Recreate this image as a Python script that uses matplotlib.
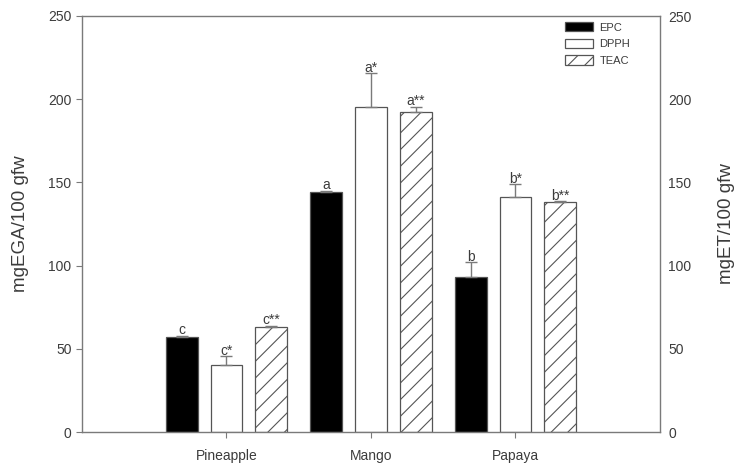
import numpy as np
import matplotlib.pyplot as plt
from matplotlib.patches import Patch

plt.rcParams['font.family'] = ['Liberation Sans', 'DejaVu Sans']
plt.rcParams['hatch.linewidth'] = 0.8

# Data
fruits = ['Pineapple', 'Mango', 'Papaya']
series = ['EPC', 'DPPH', 'TEAC']
epc = [57, 144, 93]
epc_err = [0.8, 1, 9]
dpph = [40, 195.5, 141]
dpph_err = [5.5, 20, 8]
teac = [63, 192.5, 138]
teac_err = [0.8, 3, 0.8]
letters = [['c', 'a', 'b'], ['c*', 'a*', 'b*'], ['c**', 'a**', 'b**']]

vals = [epc, dpph, teac]
errs = [epc_err, dpph_err, teac_err]
faces = ['black', 'white', 'white']
hatches = [None, None, '//']

txt = '#3c3c3c'
grey = '#7a7a7a'

fig = plt.figure(figsize=(7.37, 4.69), dpi=100)
ax = fig.add_axes([82/737, 37/469, 578/737, 416/469])

x = np.arange(len(fruits))
w = 0.22
off = 0.31
for i in range(3):
    xs = x + (i - 1) * off
    ax.bar(xs, vals[i], width=w, color=faces[i], edgecolor='#555555',
           linewidth=0.9, hatch=hatches[i], zorder=2)
    ax.errorbar(xs, vals[i], yerr=[np.zeros(3), errs[i]], fmt='none',
                ecolor=grey, elinewidth=1, capsize=4, capthick=1, zorder=3)
    for j in range(3):
        ax.annotate(letters[i][j], (xs[j], vals[i][j] + errs[i][j]),
                    xytext=(0, 1), textcoords='offset points',
                    ha='center', va='baseline', fontsize=10, color=txt)

ax.set_xlim(-1, 3)
ax.set_ylim(0, 250)
ax.set_yticks(np.arange(0, 251, 50))
ax.set_xticks(x)
ax.set_xticklabels(fruits)
ax.tick_params(axis='both', direction='out', length=4, width=0.8,
               colors=grey, labelcolor=txt, labelsize=10)
ax.tick_params(axis='x', pad=8)
for s in ax.spines.values():
    s.set_color(grey)
    s.set_linewidth(1)
ax.set_ylabel('mgEGA/100 gfw', fontsize=13.5, color=txt, labelpad=14)

ax2 = ax.twinx()
ax2.set_ylim(0, 250)
ax2.set_yticks(np.arange(0, 251, 50))
ax2.tick_params(axis='y', length=0, pad=6, labelcolor=txt, labelsize=10)
for s in ax2.spines.values():
    s.set_visible(False)
ax2.set_ylabel('mgET/100 gfw', fontsize=13.5, color=txt, labelpad=19)

handles = [Patch(facecolor=faces[i], edgecolor='#555555', hatch=hatches[i],
                 linewidth=0.9) for i in range(3)]
ax.legend(handles, series, loc='upper left',
          bbox_to_anchor=((565 - 82) / 578, 0.985), frameon=False,
          fontsize=8, handlelength=2.5, handleheight=0.9, labelspacing=0.55,
          handletextpad=0.6, borderpad=0, borderaxespad=0, labelcolor=txt)

fig.savefig('out.png', dpi=100)
